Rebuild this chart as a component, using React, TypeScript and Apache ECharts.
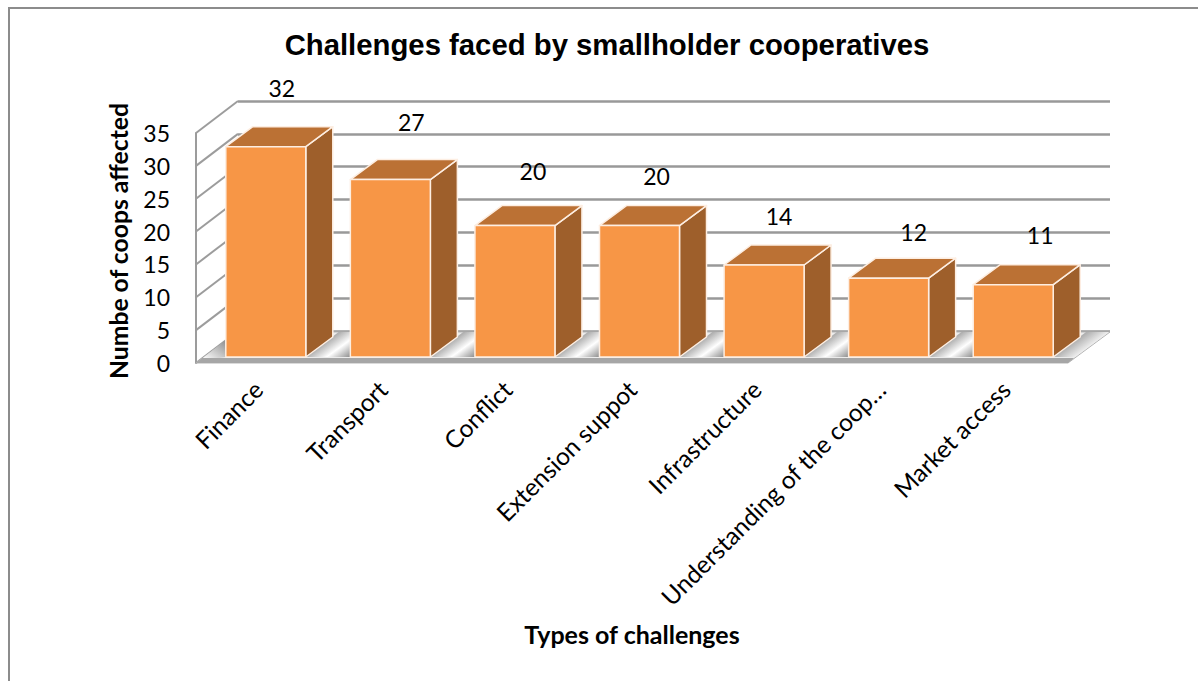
import React, { useEffect, useRef } from "react";
import * as echarts from "echarts";

const categories = ["Finance", "Transport", "Conflict", "Extension suppot", "Infrastructure", "Understanding of the coop…", "Market access"];
const coopsAffected = [32, 27, 20, 20, 14, 12, 11];
const wallTicks = [0, 5, 10, 15, 20, 25, 30, 35];
const titleText = "Challenges faced by smallholder cooperatives";
const xName = "Types of challenges";
const yName = "Numbe of coops affected";
// per-bar nudges of the value labels, relative to the top of each bar
const labelNudgeX = [16, 21, 18, 17, 15, 25, 27];
const labelNudgeY = [-59, -58, -55, -50, -49, -46, -50];

const FLOOR_DX = 42;
const FLOOR_DY = -32;
const BAR_DX = 27;
const BAR_DY = -20;
const BAR_W = 80;
const BAR_SHIFT_X = 7.5;
const BAR_SHIFT_Y = -6;
const FONT = "Lato";

const LEFT = 196, RIGHT = 1068, TOP = 133, BOTTOM = 363;

function shadowFill(x: number, y: number) {
  return new echarts.graphic.LinearGradient(x, y, x + 16, y + 22, [
    { offset: 0, color: "#b0b0b0" },
    { offset: 0.45, color: "#ffffff" },
    { offset: 1, color: "#858585" },
  ], true);
}

export default function App() {
  const ref = useRef<HTMLDivElement>(null);
  useEffect(() => {
    document.body.style.margin = "0";
    const chart = echarts.init(ref.current!, undefined, { renderer: "svg" });
    const option: any = {
      animation: false,
      backgroundColor: "#ffffff",
      title: {
        text: titleText,
        left: 602,
        top: 25,
        textAlign: "center",
        textStyle: { fontFamily: "Liberation Sans", fontWeight: "bold", fontSize: 29.3, color: "#000" },
      },
      graphic: [
        { type: "rect", silent: true, shape: { x: 9, y: 8, width: 1300, height: 800 }, style: { fill: "none", stroke: "#8c8c8c", lineWidth: 2 } },
      ],
      grid: [
        { left: LEFT, top: TOP, width: RIGHT - LEFT, height: BOTTOM - TOP },
        { left: LEFT + FLOOR_DX, top: TOP + FLOOR_DY, width: RIGHT - LEFT, height: BOTTOM - TOP },
      ],
      xAxis: [
        {
          type: "category", gridIndex: 0, data: categories,
          axisLine: { show: false }, axisTick: { show: false }, splitLine: { show: false },
          axisLabel: { rotate: 45, margin: 22, interval: 0, fontFamily: FONT, fontSize: 24.5, color: "#000" },
          name: xName, nameLocation: "middle", nameGap: 258,
          nameTextStyle: { fontFamily: FONT, fontWeight: "bold", fontSize: 25, color: "#000" },
        },
        { type: "category", gridIndex: 1, data: categories, show: false },
      ],
      yAxis: [
        {
          type: "value", gridIndex: 0, min: 0, max: 35, interval: 5,
          axisLine: { show: true, lineStyle: { color: "#9c9c9c", width: 2 } },
          axisTick: { show: false }, splitLine: { show: false },
          axisLabel: { margin: 26, fontFamily: FONT, fontSize: 23, color: "#000", padding: [4, 0, 0, 0] },
          name: yName, nameLocation: "middle", nameGap: 65, nameRotate: 90,
          nameTextStyle: { fontFamily: FONT, fontWeight: "bold", fontSize: 24.7, color: "#000", padding: [0, 0, 0, 14] },
        },
        {
          type: "value", gridIndex: 1, min: 0, max: 35, interval: 5,
          axisLine: { show: false }, axisTick: { show: false }, axisLabel: { show: false },
          splitLine: { show: true, lineStyle: { color: "#999999", width: 2.5 } },
        },
      ],
      series: [
        {
          type: "custom", xAxisIndex: 0, yAxisIndex: 0, z: 1, silent: true,
          data: wallTicks.map((t) => [0, t]),
          renderItem: (_p: any, api: any) => {
            const v = api.value(1);
            const y = api.coord([0, v])[1];
            return {
              type: "line",
              shape: { x1: LEFT, y1: y, x2: LEFT + FLOOR_DX, y2: y + FLOOR_DY },
              style: { stroke: "#9c9c9c", lineWidth: 2 },
            };
          },
        },
        {
          type: "custom", xAxisIndex: 0, yAxisIndex: 0, z: 2, silent: true,
          data: [[0, 0]],
          renderItem: (_p: any, api: any) => {
            const y = api.coord([0, 0])[1];
            return {
              type: "polygon",
              shape: { points: [[LEFT, y], [RIGHT, y], [RIGHT + FLOOR_DX, y + FLOOR_DY + 1], [LEFT + FLOOR_DX, y + FLOOR_DY + 1]] },
              style: { fill: "#ececec", stroke: "#b5b5b5", lineWidth: 1 },
            };
          },
        },
        {
          type: "custom", xAxisIndex: 0, yAxisIndex: 0, z: 3, silent: true,
          data: coopsAffected.map((v, i) => [i, v]),
          renderItem: (_p: any, api: any) => {
            const i = api.value(0);
            const v = api.value(1);
            const band = api.size([1, 0])[0];
            const c = api.coord([i, 0]);
            const base = c[1] + BAR_SHIFT_Y;
            const topY = api.coord([i, v])[1] + BAR_SHIFT_Y;
            const l = c[0] + BAR_SHIFT_X - BAR_W / 2;
            const r = l + BAR_W;
            const edge = { stroke: "#fdeee2", lineWidth: 1.5, lineJoin: "round" };
            const gap = band - BAR_W;
            const up = c[1] + FLOOR_DY + 1 - base;
            const run = (-up * FLOOR_DX) / -FLOOR_DY;
            const children: any[] = [];
            if (i === 0) {
              children.push({
                type: "polygon",
                shape: { points: [[LEFT + 3, c[1] - 2], [l, c[1] - 23], [l, base]] },
                style: { fill: new echarts.graphic.LinearGradient(l, c[1] - 23, LEFT + 12, c[1], [
                  { offset: 0, color: "#8d8d8d" }, { offset: 1, color: "#ffffff" },
                ], true) },
              });
            }
            if (i < coopsAffected.length - 1) {
              children.push({
                type: "polygon",
                shape: { points: [[r, base], [r + gap, base], [r + gap + run, base + up], [r + run, base + up]] },
                style: { fill: shadowFill(r, base) },
              });
            } else {
              children.push({
                type: "polygon",
                shape: { points: [[r, base], [RIGHT + 7, base], [RIGHT + FLOOR_DX - 1, base + up], [r + run, base + up]] },
                style: { fill: new echarts.graphic.LinearGradient(r, base, r + 16, base + 22, [
                  { offset: 0, color: "#b0b0b0" }, { offset: 0.6, color: "#ffffff" }, { offset: 1, color: "#e0e0e0" },
                ], true) },
              });
            }
            children.push(
              { type: "polygon", shape: { points: [[r, topY], [r + BAR_DX, topY + BAR_DY], [r + BAR_DX, base + BAR_DY], [r, base]] }, style: { fill: "#9e5f2b", ...edge } },
              { type: "polygon", shape: { points: [[l, topY], [l + BAR_DX, topY + BAR_DY], [r + BAR_DX, topY + BAR_DY], [r, topY]] }, style: { fill: "#bb7134", ...edge } },
              { type: "rect", shape: { x: l, y: topY, width: BAR_W, height: base - topY }, style: { fill: "#f79646", ...edge } },
              {
                type: "text",
                x: c[0] + BAR_SHIFT_X + labelNudgeX[i],
                y: topY + labelNudgeY[i],
                style: { text: String(v), fontFamily: FONT, fontSize: 23, fill: "#000", align: "center", verticalAlign: "middle" },
              },
            );
            return { type: "group", children };
          },
        },
        {
          type: "custom", xAxisIndex: 0, yAxisIndex: 0, z: 4, silent: true,
          data: [[0, 0]],
          renderItem: (_p: any, api: any) => {
            const y = api.coord([0, 0])[1];
            return {
              type: "polygon",
              shape: { points: [[LEFT, y], [RIGHT, y], [RIGHT + 6, y + BAR_SHIFT_Y + 1], [LEFT + 6, y + BAR_SHIFT_Y + 1]] },
              style: { fill: "#a6a6a6" },
            };
          },
        },
      ],
    };
    chart.setOption(option);
    return () => chart.dispose();
  }, []);
  return <div ref={ref} style={{ position: "fixed", left: 0, top: 0, width: 1198, height: 681 }} />;
}
